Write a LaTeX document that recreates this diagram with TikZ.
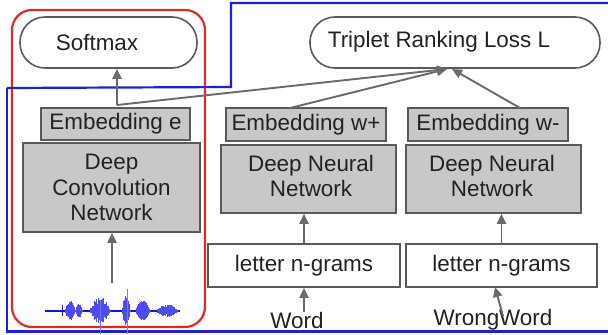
\documentclass[tikz,border=0pt]{standalone}
\usepackage{fontspec}
\setmainfont{Liberation Sans}
\usetikzlibrary{arrows.meta,calc}
\definecolor{boxfill}{HTML}{C8C8C8}
\definecolor{boxdraw}{HTML}{5A5A5A}
\definecolor{arrgray}{HTML}{6A6A6A}
\definecolor{redb}{HTML}{E02A2A}
\definecolor{blueb}{HTML}{1E1EE6}
\definecolor{wave}{HTML}{1010F0}
\definecolor{txt}{HTML}{222222}
\begin{document}
\begin{tikzpicture}[x=1bp,y=-1bp,
  every node/.style={font=\fontsize{22.5}{25.5}\selectfont, text=txt, inner sep=0pt},
  pill/.style={draw=boxdraw, line width=1.6bp, rounded corners=25bp, fill=white},
  graybox/.style={draw=boxdraw, line width=1.6bp, fill=boxfill, align=center},
  whitebox/.style={draw=boxdraw, line width=1.6bp, fill=white, align=center},
  arr/.style={draw=arrgray, line width=1.9bp, -{Triangle[length=10bp,width=9bp]}},
  frame/.style={line width=2.2bp},
]
\useasboundingbox (0,0) rectangle (608,334);
\fill[white] (0,0) rectangle (608,334);

% frames
\draw[frame, draw=redb, rounded corners=20bp] (12,10) rectangle (205,327);
\draw[frame, draw=blueb] (7,88) -- (231,87) -- (231,3) -- (612,3);
\draw[frame, draw=blueb] (7,88) -- (7,331.5) -- (612,331.5);

% nodes
\node[pill, minimum width=177bp, minimum height=51bp] (softmax) at (108.5,42.5) {};
\node (softmaxtxt) at (97,42) {Softmax};
\node[pill, minimum width=290bp, minimum height=51bp] (loss) at (455,42.5) {};
\node (losstxt) at (439,41.5) {Triplet Ranking Loss L};

\node[graybox, minimum width=149bp, minimum height=32bp] (embE) at (115.5,124) {Embedding e};
\node[graybox, minimum width=177bp, minimum height=89bp] (dcn) at (111.5,187.5) {Deep\\Convolution\\Network};

\node[graybox, minimum width=160bp, minimum height=33bp] (embP) at (306,124.5) {Embedding w+};
\node[graybox, minimum width=160bp, minimum height=33bp] (embM) at (488,124.5) {Embedding w-};
\node[graybox, minimum width=175bp, minimum height=68bp] (dnn1) at (308.5,179) {};
\node (dnn1txt) at (311,176) [align=center] {Deep Neural\\Network};
\node[graybox, minimum width=175bp, minimum height=68bp] (dnn2) at (493.5,179) {};
\node (dnn2txt) at (492,176) [align=center] {Deep Neural\\Network};
\node[whitebox, minimum width=192bp, minimum height=43bp] (ng1) at (304,265.5) {letter n-grams};
\node[whitebox, minimum width=191bp, minimum height=43bp] (ng2) at (501.5,265.5) {letter n-grams};
\node (word) at (297,320) {Word};
\node (wrong) at (493,320) {WrongWord};

% connectors
\coordinate (br) at (117,105);
\coordinate (tipA) at (447,69);
\coordinate (tipB) at (452,69);
\coordinate (p1) at (290,108);
\coordinate (m1) at (520,108);
\coordinate (wv) at (112,283);
\coordinate (w1) at (304,312);
\coordinate (w2) at (503,316);
\coordinate (t2) at (495,287);

\draw[arr] (br) -- (br |- softmax.south);
\draw[arr] (br) -- (tipA);
\draw[arr] (p1) -- (tipA);
\draw[arr] (m1) -- (tipB);
\draw[arr] (wv) -- (wv |- dcn.south);
\draw[arr] (ng1.north) -- (ng1.north |- dnn1.south);
\draw[arr] (ng2.north) -- (ng2.north |- dnn2.south);
\draw[arr] (w1) -- (w1 |- ng1.south);
\draw[arr] (w2) -- (t2);

% waveform
\pgfmathsetseed{7}
\draw[wave, line width=2.2bp] (45,311) -- (180,311);
\draw[wave, line width=1bp] (62,305) -- (62,316);
\foreach \c/\h/\a in {70/5/9, 79/3/6, 100/10/14, 126/4/15, 143/7/10, 167/10/6} {
  \fill[wave] (\c,311) ellipse ({0.75*\h} and {0.45*\a});
  \foreach \t in {-1,-0.96,...,1} {
    \pgfmathsetmacro\amp{\a*(1-\t*\t)*(0.35+0.65*rnd)+1}
    \pgfmathsetmacro\xx{\c+\t*\h}
    \draw[wave!75, line width=0.8bp] (\xx,311-\amp) -- (\xx,311+0.9*\amp);
  }
}
\draw[wave!60, line width=0.8bp] (100,300) -- (100,334);
\draw[wave!55, line width=0.8bp] (127,289) -- (127,334);
\end{tikzpicture}
\end{document}
